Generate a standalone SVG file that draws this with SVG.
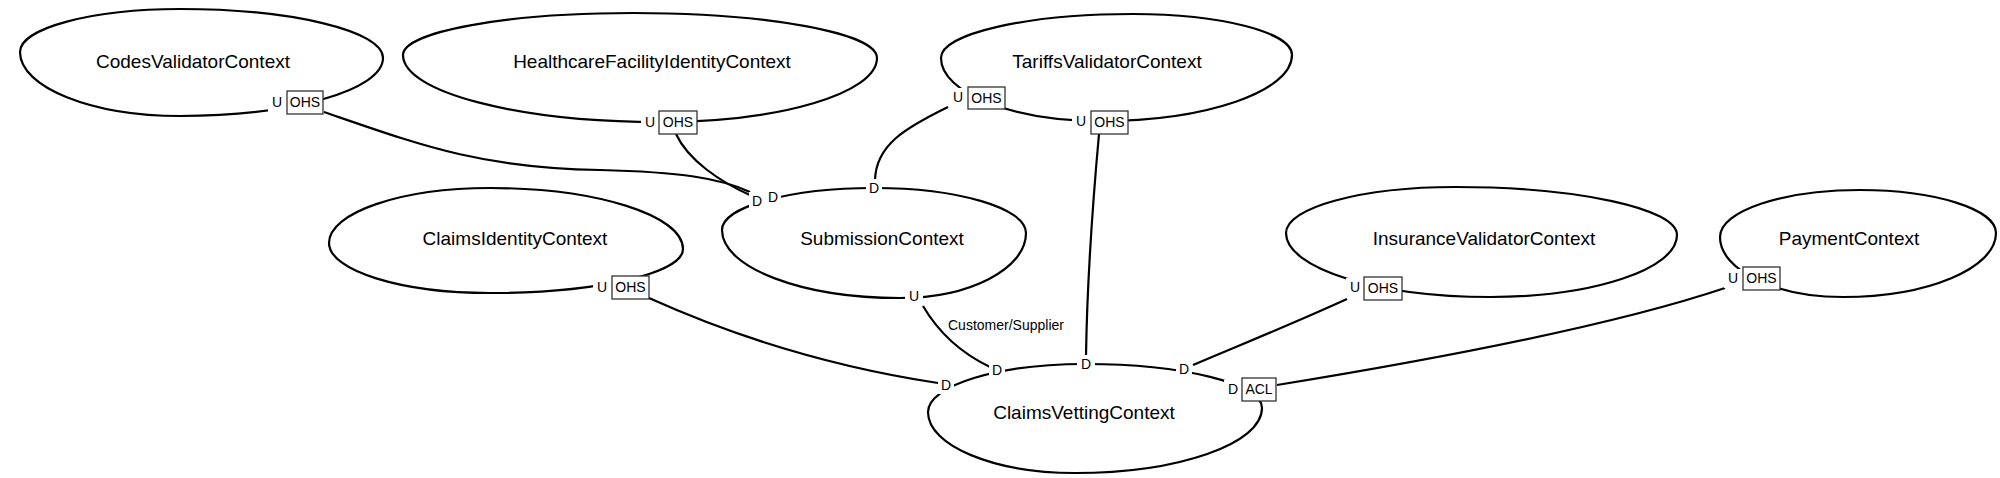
<svg xmlns="http://www.w3.org/2000/svg" width="2000" height="478" viewBox="0 0 2000 478">
<style>
.node{fill:none;stroke:#000;stroke-width:2.2}
.name{font-family:"Liberation Sans",Arial,sans-serif;font-size:19px;fill:#000;text-anchor:middle}
.edge{fill:none;stroke:#000;stroke-width:2.2}
.lbl{font-family:"Liberation Sans",Arial,sans-serif;font-size:14px;fill:#000;text-anchor:middle}
.bg{fill:#fff;stroke:none}
.box{fill:#fff;stroke:#333;stroke-width:1.3}
</style>
<rect x="0" y="0" width="2000" height="478" fill="#fff"/>
<g id="nodes">
<g id="CodesValidatorContext">
<path class="node" d="M20,52 C20,28.3 91.6,9 180,9 C292.1,9 383,30.9 383,58 C383,90 292.1,116 180,116 C91.6,116 20,87.3 20,52 Z"/>
<text class="name" x="193" y="68">CodesValidatorContext</text>
</g>
<g id="HealthcareFacilityIdentityContext">
<path class="node" d="M403,55 C403,31.8 506,13 633,13 C767.8,13 877,33.1 877,58 C877,93.3 779.8,122 660,122 C518.1,122 403,92 403,55 Z"/>
<text class="name" x="652" y="68">HealthcareFacilityIdentityContext</text>
</g>
<g id="TariffsValidatorContext">
<path class="node" d="M941,58 C941,33.7 1027,14 1133,14 C1220.8,14 1292,32.4 1292,55 C1292,91.5 1206,121 1100,121 C1012.2,121 941,92.8 941,58 Z"/>
<text class="name" x="1107" y="68">TariffsValidatorContext</text>
</g>
<g id="ClaimsIdentityContext">
<path class="node" d="M329,243 C329,212.6 401.1,188 490,188 C596.6,188 683,215.3 683,249 C683,273.3 596.6,293 490,293 C401.1,293 329,270.6 329,243 Z"/>
<text class="name" x="515" y="245">ClaimsIdentityContext</text>
</g>
<g id="SubmissionContext">
<path class="node" d="M722,230 C722,206.8 790.1,188 874,188 C957.9,188 1026,208.1 1026,233 C1026,268.9 969.6,298 900,298 C801.7,298 722,267.6 722,230 Z"/>
<text class="name" x="882" y="245">SubmissionContext</text>
</g>
<g id="InsuranceValidatorContext">
<path class="node" d="M1286,233 C1286,207.6 1361.7,187 1455,187 C1577.6,187 1677,208.5 1677,235 C1677,269.2 1593.3,297 1490,297 C1377.3,297 1286,268.3 1286,233 Z"/>
<text class="name" x="1484" y="245">InsuranceValidatorContext</text>
</g>
<g id="PaymentContext">
<path class="node" d="M1720,237 C1720,211 1782.7,190 1860,190 C1935.1,190 1996,209.3 1996,233 C1996,268.3 1927.5,297 1843,297 C1775.1,297 1720,270.1 1720,237 Z"/>
<text class="name" x="1849" y="245">PaymentContext</text>
</g>
<g id="ClaimsVettingContext">
<path class="node" d="M928,412 C928,385.5 998.3,364 1085,364 C1182.8,364 1262,383.7 1262,408 C1262,443.9 1178.3,473 1075,473 C993.8,473 928,445.7 928,412 Z"/>
<text class="name" x="1084" y="419">ClaimsVettingContext</text>
</g>
</g>
<g id="connectors">
<g id="e-codes-submission">
<path class="edge" d="M324,112 C420,145 480,168 600,170 C680,172 720,178 750,192"/>
</g>
<g id="e-healthcare-submission">
<path class="edge" d="M676,134 C688,160 720,182 752,196"/>
</g>
<g id="e-tariffs-submission">
<path class="edge" d="M948,107 C905,128 876,145 875,180"/>
</g>
<g id="e-tariffs-vetting">
<path class="edge" d="M1099,134 C1093,200 1087,290 1086,356"/>
</g>
<g id="e-identity-vetting">
<path class="edge" d="M649,298 C720,330 820,365 938,383"/>
</g>
<g id="e-submission-vetting">
<path class="edge" d="M923,306 C940,335 965,355 990,367"/>
</g>
<g id="e-insurance-vetting">
<path class="edge" d="M1347,299 C1290,325 1240,345 1193,365"/>
</g>
<g id="e-payment-vetting">
<path class="edge" d="M1725,288 C1600,330 1400,365 1277,385"/>
</g>
<g id="labels">
<rect class="bg" x="268" y="93" width="19" height="19"/>
<text class="lbl" x="277" y="107">U</text>
<rect class="box" x="287" y="91" width="36" height="23"/>
<text class="lbl" x="305" y="107">OHS</text>

<rect class="bg" x="641" y="113" width="18" height="19"/>
<text class="lbl" x="650" y="127">U</text>
<rect class="box" x="659" y="111" width="38" height="23"/>
<text class="lbl" x="678" y="127">OHS</text>

<rect class="bg" x="950" y="88" width="18" height="19"/>
<text class="lbl" x="958" y="102">U</text>
<rect class="box" x="968" y="87" width="37" height="22"/>
<text class="lbl" x="986.5" y="103">OHS</text>

<rect class="bg" x="1072" y="112" width="19" height="19"/>
<text class="lbl" x="1081" y="126">U</text>
<rect class="box" x="1091" y="111" width="37" height="23"/>
<text class="lbl" x="1109.5" y="127">OHS</text>

<rect class="bg" x="593" y="278" width="19" height="19"/>
<text class="lbl" x="602" y="292">U</text>
<rect class="box" x="612" y="276" width="37" height="23"/>
<text class="lbl" x="630.5" y="292">OHS</text>

<rect class="bg" x="1346" y="278" width="18" height="19"/>
<text class="lbl" x="1355" y="292">U</text>
<rect class="box" x="1364" y="277" width="38" height="23"/>
<text class="lbl" x="1383" y="293">OHS</text>

<rect class="bg" x="1724" y="269" width="19" height="19"/>
<text class="lbl" x="1733" y="283">U</text>
<rect class="box" x="1743" y="267" width="37" height="23"/>
<text class="lbl" x="1761.5" y="283">OHS</text>

<rect class="bg" x="1224" y="380" width="18" height="19"/>
<text class="lbl" x="1233" y="394">D</text>
<rect class="box" x="1242" y="378" width="34" height="23"/>
<text class="lbl" x="1259" y="394">ACL</text>

<rect class="bg" x="905" y="287" width="18" height="18"/>
<text class="lbl" x="914" y="301">U</text>

<rect class="bg" x="749" y="192" width="16" height="18"/>
<text class="lbl" x="757" y="206">D</text>
<rect class="bg" x="765" y="188" width="16" height="18"/>
<text class="lbl" x="773" y="202">D</text>
<rect class="bg" x="866" y="179" width="16" height="18"/>
<text class="lbl" x="874" y="193">D</text>
<rect class="bg" x="938" y="376" width="16" height="18"/>
<text class="lbl" x="946" y="390">D</text>
<rect class="bg" x="989" y="361" width="16" height="18"/>
<text class="lbl" x="997" y="375">D</text>
<rect class="bg" x="1077" y="355" width="18" height="18"/>
<text class="lbl" x="1086" y="369">D</text>
<rect class="bg" x="1176" y="360" width="16" height="18"/>
<text class="lbl" x="1184" y="374">D</text>

<text class="lbl" x="948" y="330" style="text-anchor:start">Customer/Supplier</text>
</g>
</g>
</svg>
